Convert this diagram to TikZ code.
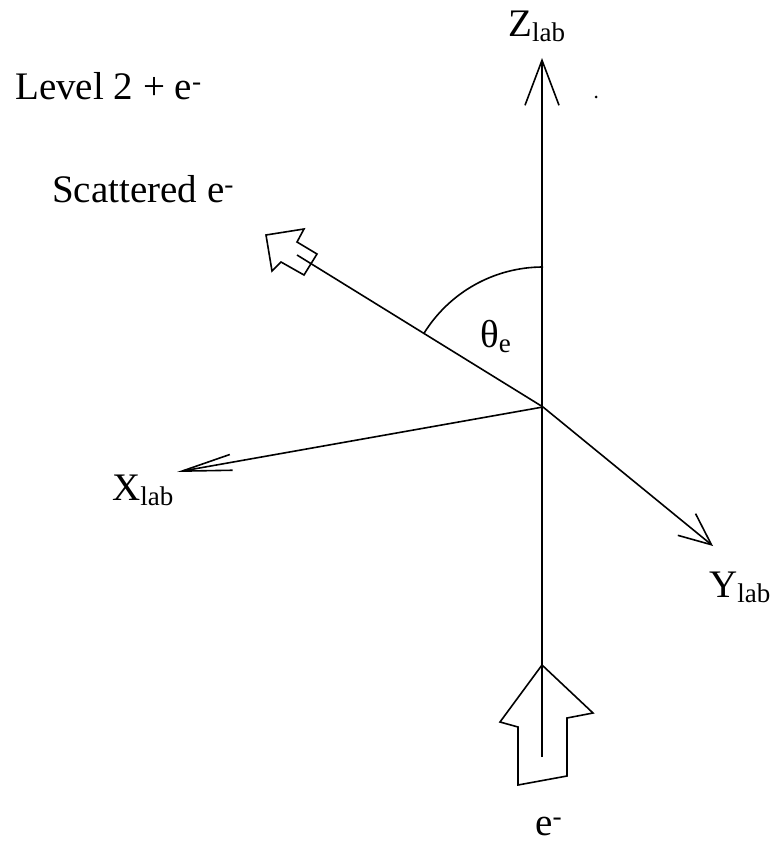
\documentclass[tikz,border=0pt]{standalone}
\usepackage{fontspec}
\setmainfont{Liberation Serif}
\usetikzlibrary{arrows.meta, calc}

\newcommand{\sublab}[1]{\raisebox{-5pt}{\fontsize{27}{27}\selectfont #1}}

\begin{document}
\begin{tikzpicture}[
    x=1pt, y=-1pt,
    label/.style={inner sep=0pt, anchor=base west, font=\fontsize{39}{44}\selectfont},
    axis/.style={line width=1.6pt},
    barb/.style n args={2}{-{Straight Barb[length=#1pt, width=#2pt]}},
    block/.style={line width=1.6pt, line join=miter},
]
    \useasboundingbox (0,0) rectangle (775,842);

    % origin and axis ends
    \coordinate (O) at (543,407);
    \coordinate (ztip) at (542,58);
    \coordinate (zbot) at (542,757);
    \coordinate (xtip) at (177,472);
    \coordinate (ytip) at (713,546);
    \coordinate (send) at (297,255);

    % labels
    \node[label] (level) at (15,100) {Level 2 + e\textsuperscript{-}};
    \node[label] (scat) at (52,203) {Scattered e\textsuperscript{-}};
    \node[label] (zlab) at (508,37) {Z\sublab{lab}};
    \node[label] (xlab) at (112,500) {X\sublab{lab}};
    \node[label] (ylab) at (709,597) {Y\sublab{lab}};
    \node[label] (theta) at (480,347) {θ\sublab{e}};
    \node[label] (ein) at (535,835) {e\textsuperscript{-}};

    % axes
    \draw[axis, barb={45}{34}] (zbot) -- (ztip);
    \draw[axis, barb={50}{16}] (O) -- (xtip);
    \draw[axis, barb={32}{28}] (O) -- (ytip);
    \draw[axis] (O) -- (send);

    % angle
    \draw[axis] ($(O)+(-148.5:140)$) arc[start angle=-148.5, end angle=-90, radius=140];

    % scattered electron
    \draw[block] (266,235) -- (304,229) -- (297,242) -- (317,254)
        -- (304,275) -- (281,262) -- (272,271) -- cycle;

    % incoming electron
    \draw[block] (542,665) -- (593,713) -- (567,718) -- (567,776)
        -- (518,785) -- (518,727) -- (500,722) -- cycle;

    \fill (596,97) circle (1.5);
\end{tikzpicture}
\end{document}
